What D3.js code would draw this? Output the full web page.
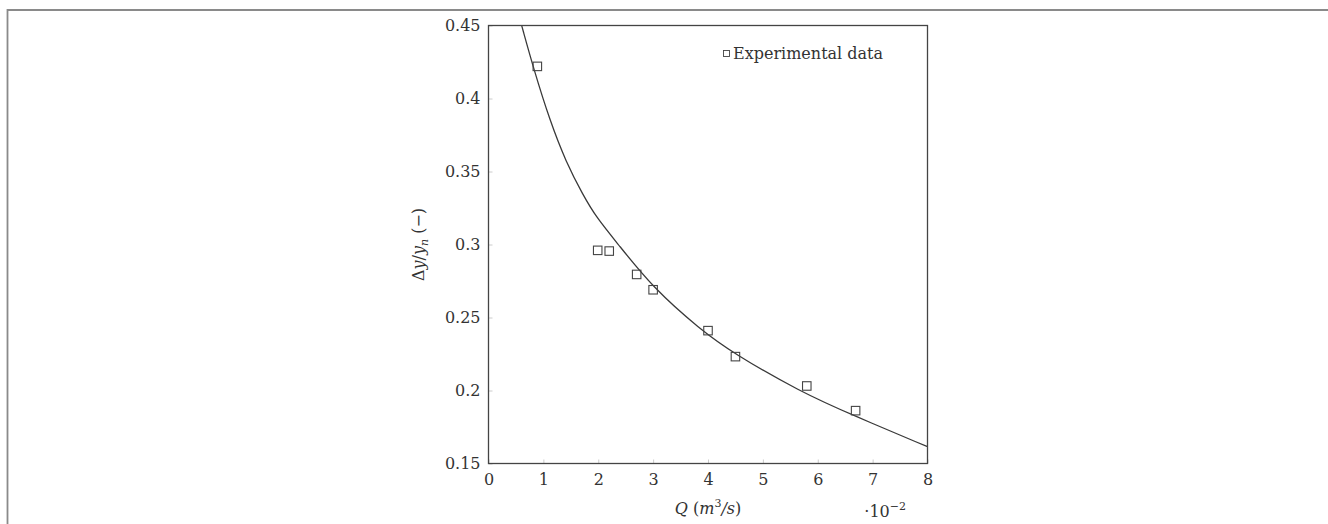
<!DOCTYPE html>
<html>
<head>
<meta charset="utf-8">
<script src="https://cdn.jsdelivr.net/npm/d3@7"></script>
<style>
  body { margin: 0; background: #fff; }
  svg text { font-family: "DejaVu Serif", "Liberation Serif", serif; fill: #333; }
</style>
</head>
<body>
<div id="canvas"></div>
<script>
// size
var width = 1328;
var height = 524;

// experimental data (Q in 1e-2 m3/s, dy/yn)
var expQ = [0.89, 1.99, 2.2, 2.7, 3.0, 4.0, 4.5, 5.8, 6.69];
var expY = [0.422, 0.296, 0.2955, 0.2795, 0.269, 0.241, 0.2232, 0.2031, 0.1862];

// fitted curve
var fitQ = [0.605, 0.829, 1.121, 1.412, 1.722, 1.972, 2.36, 3.0, 3.856, 4.461, 5.677, 6.648, 8.0];
var fitY = [0.4499, 0.4195, 0.3846, 0.3565, 0.3339, 0.3182, 0.3003, 0.2702, 0.2419, 0.2255, 0.1992, 0.1829, 0.1615];

// ticks
var xTicks = [0, 1, 2, 3, 4, 5, 6, 7, 8];
var yTicks = [0.15, 0.2, 0.25, 0.3, 0.35, 0.4, 0.45];
var yTickLabels = ["0.15", "0.2", "0.25", "0.3", "0.35", "0.4", "0.45"];

var plot = {left: 488.5, right: 927.5, top: 25.5, bottom: 463.5};

var svg = d3.select("#canvas").append("svg")
    .attr("width", width)
    .attr("height", height);

// page frame (top and left edge)
svg.append("line")
    .attr("x1", 7.5).attr("y1", 10).attr("x2", width).attr("y2", 10)
    .attr("stroke", "#8a8a8a").attr("stroke-width", 2);
svg.append("line")
    .attr("x1", 7.5).attr("y1", 9).attr("x2", 7.5).attr("y2", height)
    .attr("stroke", "#8a8a8a").attr("stroke-width", 1.8);

var x = d3.scaleLinear().domain([0, 8]).range([plot.left, plot.right]);
var y = d3.scaleLinear().domain([0.15, 0.45]).range([plot.bottom, plot.top]);

// ticks inside the box, barely visible
var xAxis = d3.axisBottom(x).tickValues(xTicks).tickSizeInner(-4).tickSizeOuter(0).tickFormat(d3.format("d"));
var yAxis = d3.axisLeft(y).tickValues(yTicks).tickSizeInner(-4).tickSizeOuter(0)
    .tickFormat(function(d, i){ return yTickLabels[i]; });

var gx = svg.append("g")
    .attr("transform", "translate(0," + plot.bottom + ")")
    .call(xAxis);
gx.select(".domain").remove();
gx.selectAll(".tick line").attr("stroke", "#ccc");
gx.selectAll(".tick text")
    .attr("y", 21)
    .attr("dy", 0)
    .style("font-family", "DejaVu Serif")
    .style("font-size", "16px")
    .style("fill", "#333");

var gy = svg.append("g")
    .attr("transform", "translate(" + plot.left + ",0)")
    .call(yAxis);
gy.select(".domain").remove();
gy.selectAll(".tick line").attr("stroke", "#ccc");
gy.selectAll(".tick text")
    .attr("x", -8)
    .attr("dy", "0.32em")
    .style("font-family", "DejaVu Serif")
    .style("font-size", "16px")
    .style("fill", "#333");

// clip for the curve
svg.append("clipPath").attr("id", "clip")
    .append("rect")
    .attr("x", plot.left).attr("y", plot.top)
    .attr("width", plot.right - plot.left).attr("height", plot.bottom - plot.top);

var line = d3.line()
    .x(function(d){ return x(d[0]); })
    .y(function(d){ return y(d[1]); })
    .curve(d3.curveBasis);

svg.append("path")
    .datum(d3.zip(fitQ, fitY))
    .attr("clip-path", "url(#clip)")
    .attr("d", line)
    .attr("fill", "none")
    .attr("stroke", "#3a3a3a")
    .attr("stroke-width", 1.3);

// experimental markers
var sq = 8.5;
svg.selectAll("rect.pt")
    .data(d3.zip(expQ, expY))
    .enter().append("rect")
    .attr("class", "pt")
    .attr("x", function(d){ return x(d[0]) - sq / 2; })
    .attr("y", function(d){ return y(d[1]) - sq / 2; })
    .attr("width", sq).attr("height", sq)
    .attr("fill", "none")
    .attr("stroke", "#444")
    .attr("stroke-width", 1.1);

// axis box
svg.append("rect")
    .attr("x", plot.left).attr("y", plot.top)
    .attr("width", plot.right - plot.left).attr("height", plot.bottom - plot.top)
    .attr("fill", "none")
    .attr("stroke", "#444")
    .attr("stroke-width", 1.3);

// legend
svg.append("rect")
    .attr("x", 723.5).attr("y", 50.5)
    .attr("width", 6).attr("height", 6)
    .attr("fill", "none").attr("stroke", "#444").attr("stroke-width", 0.9);
svg.append("text")
    .attr("x", 733).attr("y", 59)
    .style("font-size", "16px")
    .text("Experimental data");

// x axis title
var xt = svg.append("text")
    .attr("x", (plot.left + plot.right) / 2)
    .attr("y", 514)
    .attr("text-anchor", "middle")
    .style("font-size", "16px");
xt.append("tspan").style("font-style", "italic").text("Q");
xt.append("tspan").text(" (");
xt.append("tspan").style("font-style", "italic").text("m");
xt.append("tspan").attr("dy", -7).style("font-size", "11px").text("3");
xt.append("tspan").attr("dy", 7).style("font-style", "italic").text("/s");
xt.append("tspan").text(")");

// scale multiplier
var mt = svg.append("text")
    .attr("x", 906)
    .attr("y", 517)
    .attr("text-anchor", "end")
    .style("font-size", "16px");
mt.append("tspan").text("·10");
mt.append("tspan").attr("dy", -7).style("font-size", "11px").text("−2");

// y axis title
var yt = svg.append("text")
    .attr("transform", "translate(424," + (plot.top + plot.bottom) / 2 + ")rotate(-90)")
    .attr("text-anchor", "middle")
    .style("font-size", "16px");
yt.append("tspan").text("Δ");
yt.append("tspan").style("font-style", "italic").text("y");
yt.append("tspan").text("/");
yt.append("tspan").style("font-style", "italic").text("y");
yt.append("tspan").attr("dy", 4).style("font-size", "11px").style("font-style", "italic").text("n");
yt.append("tspan").attr("dy", -4).text(" (−)");
</script>
</body>
</html>
